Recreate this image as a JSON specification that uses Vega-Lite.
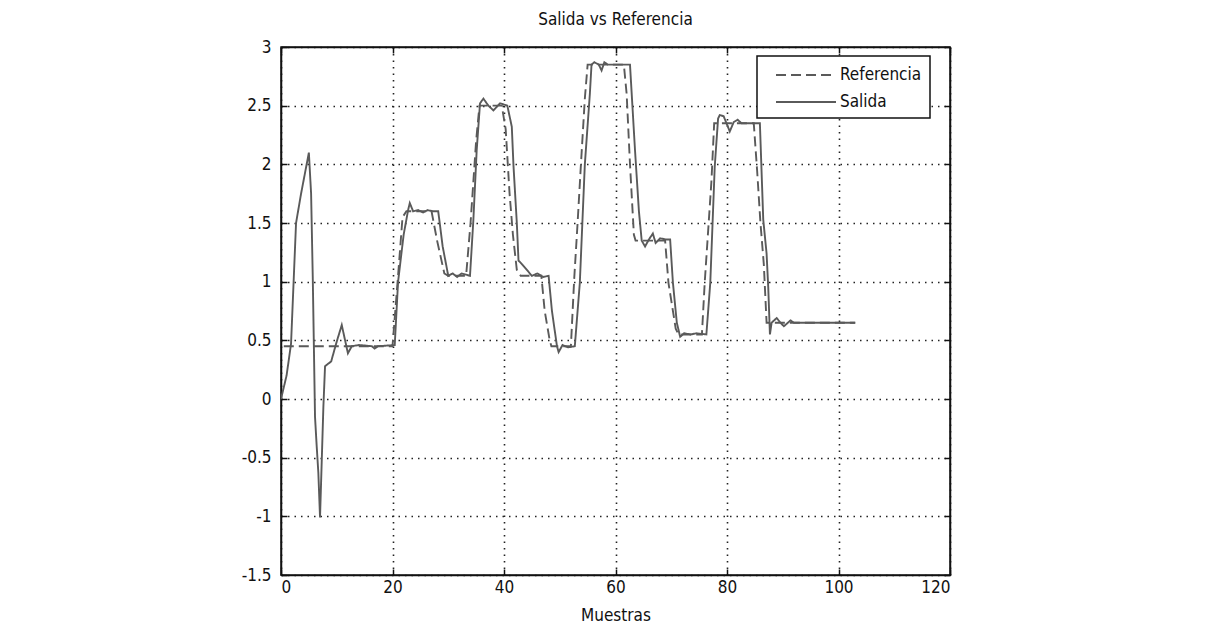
{
  "$schema": "https://vega.github.io/schema/vega-lite/v6.json",
  "width": 669,
  "height": 528,
  "autosize": "none",
  "padding": {"left": 281, "top": 47, "right": 260, "bottom": 53},
  "background": "white",
  "title": {"text": "Salida vs Referencia", "fontSize": 17, "fontWeight": "normal", "font": "Liberation Sans Narrow, DejaVu Sans Condensed, Liberation Sans", "color": "#111", "offset": 9, "anchor": "middle"},
  "config": {
    "view": {"stroke": "#111", "strokeWidth": 1.5},
    "axis": {
      "domainColor": "#111",
      "domainWidth": 1.5,
      "tickColor": "#111",
      "tickSize": -6,
      "tickWidth": 1.5,
      "grid": true,
      "gridColor": "#222",
      "gridDash": [1.5, 5],
      "gridWidth": 1.6,
      "gridOpacity": 1,
      "labelFont": "Liberation Sans Narrow, DejaVu Sans Condensed, Liberation Sans",
      "labelFontSize": 17,
      "labelColor": "#111",
      "titleFont": "Liberation Sans Narrow, DejaVu Sans Condensed, Liberation Sans",
      "titleFontSize": 17,
      "titleFontWeight": "normal",
      "titleColor": "#111"
    },
    "legend": {
      "orient": "none",
      "legendX": 476,
      "legendY": 9,
      "direction": "vertical",
      "fillColor": "white",
      "strokeColor": "#111",
      "strokeWidth": 1.5,
      "padding": 8,
      "symbolType": "M0,0H6",
      "symbolSize": 400,
      "symbolStrokeWidth": 1.8,
      "symbolStrokeColor": "#5a5a5a",
      "labelOffset": 53,
      "labelFont": "Liberation Sans Narrow, DejaVu Sans Condensed, Liberation Sans",
      "labelFontSize": 17,
      "labelColor": "#111",
      "rowPadding": 8
    }
  },
  "data": {"values": [
    {"x": 0.5, "y": 0.45, "serie": "Referencia"},
    {"x": 20, "y": 0.45, "serie": "Referencia"},
    {"x": 21, "y": 1.05, "serie": "Referencia"},
    {"x": 21.8, "y": 1.55, "serie": "Referencia"},
    {"x": 22.5, "y": 1.6, "serie": "Referencia"},
    {"x": 27, "y": 1.6, "serie": "Referencia"},
    {"x": 28, "y": 1.35, "serie": "Referencia"},
    {"x": 29.3, "y": 1.07, "serie": "Referencia"},
    {"x": 30, "y": 1.05, "serie": "Referencia"},
    {"x": 33.2, "y": 1.05, "serie": "Referencia"},
    {"x": 34, "y": 1.5, "serie": "Referencia"},
    {"x": 35, "y": 2.2, "serie": "Referencia"},
    {"x": 35.6, "y": 2.5, "serie": "Referencia"},
    {"x": 39.6, "y": 2.5, "serie": "Referencia"},
    {"x": 40.3, "y": 2.3, "serie": "Referencia"},
    {"x": 41, "y": 1.75, "serie": "Referencia"},
    {"x": 41.6, "y": 1.4, "serie": "Referencia"},
    {"x": 42.3, "y": 1.1, "serie": "Referencia"},
    {"x": 43, "y": 1.05, "serie": "Referencia"},
    {"x": 46.7, "y": 1.05, "serie": "Referencia"},
    {"x": 47.3, "y": 0.75, "serie": "Referencia"},
    {"x": 48.2, "y": 0.5, "serie": "Referencia"},
    {"x": 48.5, "y": 0.45, "serie": "Referencia"},
    {"x": 52, "y": 0.45, "serie": "Referencia"},
    {"x": 52.6, "y": 1.03, "serie": "Referencia"},
    {"x": 53.2, "y": 1.5, "serie": "Referencia"},
    {"x": 53.8, "y": 2.0, "serie": "Referencia"},
    {"x": 54.5, "y": 2.56, "serie": "Referencia"},
    {"x": 55, "y": 2.85, "serie": "Referencia"},
    {"x": 61.5, "y": 2.85, "serie": "Referencia"},
    {"x": 62, "y": 2.6, "serie": "Referencia"},
    {"x": 62.6, "y": 2.0, "serie": "Referencia"},
    {"x": 63.3, "y": 1.4, "serie": "Referencia"},
    {"x": 63.6, "y": 1.35, "serie": "Referencia"},
    {"x": 68.9, "y": 1.35, "serie": "Referencia"},
    {"x": 69.5, "y": 0.99, "serie": "Referencia"},
    {"x": 70.8, "y": 0.6, "serie": "Referencia"},
    {"x": 71.3, "y": 0.55, "serie": "Referencia"},
    {"x": 75.5, "y": 0.55, "serie": "Referencia"},
    {"x": 76, "y": 0.99, "serie": "Referencia"},
    {"x": 77.2, "y": 1.85, "serie": "Referencia"},
    {"x": 77.7, "y": 2.35, "serie": "Referencia"},
    {"x": 84.8, "y": 2.35, "serie": "Referencia"},
    {"x": 85.4, "y": 1.95, "serie": "Referencia"},
    {"x": 86, "y": 1.5, "serie": "Referencia"},
    {"x": 86.6, "y": 1.15, "serie": "Referencia"},
    {"x": 87.1, "y": 0.65, "serie": "Referencia"},
    {"x": 103, "y": 0.65, "serie": "Referencia"},
    {"x": 0, "y": 0, "serie": "Salida"},
    {"x": 1, "y": 0.2, "serie": "Salida"},
    {"x": 1.8, "y": 0.47, "serie": "Salida"},
    {"x": 2.7, "y": 1.5, "serie": "Salida"},
    {"x": 3.6, "y": 1.75, "serie": "Salida"},
    {"x": 5, "y": 2.1, "serie": "Salida"},
    {"x": 5.4, "y": 1.75, "serie": "Salida"},
    {"x": 5.7, "y": 1.03, "serie": "Salida"},
    {"x": 6.1, "y": -0.15, "serie": "Salida"},
    {"x": 6.4, "y": -0.4, "serie": "Salida"},
    {"x": 6.7, "y": -0.63, "serie": "Salida"},
    {"x": 7, "y": -1.01, "serie": "Salida"},
    {"x": 7.6, "y": -0.07, "serie": "Salida"},
    {"x": 7.9, "y": 0.28, "serie": "Salida"},
    {"x": 9, "y": 0.32, "serie": "Salida"},
    {"x": 10, "y": 0.49, "serie": "Salida"},
    {"x": 10.9, "y": 0.63, "serie": "Salida"},
    {"x": 12, "y": 0.39, "serie": "Salida"},
    {"x": 12.7, "y": 0.45, "serie": "Salida"},
    {"x": 14, "y": 0.46, "serie": "Salida"},
    {"x": 16.3, "y": 0.45, "serie": "Salida"},
    {"x": 16.8, "y": 0.43, "serie": "Salida"},
    {"x": 17.4, "y": 0.45, "serie": "Salida"},
    {"x": 20.4, "y": 0.46, "serie": "Salida"},
    {"x": 21, "y": 1.0, "serie": "Salida"},
    {"x": 22, "y": 1.4, "serie": "Salida"},
    {"x": 22.8, "y": 1.61, "serie": "Salida"},
    {"x": 23.1, "y": 1.67, "serie": "Salida"},
    {"x": 23.7, "y": 1.6, "serie": "Salida"},
    {"x": 24.6, "y": 1.61, "serie": "Salida"},
    {"x": 25.5, "y": 1.59, "serie": "Salida"},
    {"x": 26.3, "y": 1.61, "serie": "Salida"},
    {"x": 27.2, "y": 1.6, "serie": "Salida"},
    {"x": 28.2, "y": 1.6, "serie": "Salida"},
    {"x": 29, "y": 1.3, "serie": "Salida"},
    {"x": 30, "y": 1.05, "serie": "Salida"},
    {"x": 30.8, "y": 1.07, "serie": "Salida"},
    {"x": 31.6, "y": 1.04, "serie": "Salida"},
    {"x": 32.4, "y": 1.07, "serie": "Salida"},
    {"x": 33.9, "y": 1.05, "serie": "Salida"},
    {"x": 34.5, "y": 1.52, "serie": "Salida"},
    {"x": 35.1, "y": 2.12, "serie": "Salida"},
    {"x": 35.7, "y": 2.52, "serie": "Salida"},
    {"x": 36.3, "y": 2.56, "serie": "Salida"},
    {"x": 37.2, "y": 2.5, "serie": "Salida"},
    {"x": 38.1, "y": 2.46, "serie": "Salida"},
    {"x": 39.3, "y": 2.52, "serie": "Salida"},
    {"x": 40.6, "y": 2.5, "serie": "Salida"},
    {"x": 41.4, "y": 2.32, "serie": "Salida"},
    {"x": 41.7, "y": 1.99, "serie": "Salida"},
    {"x": 42.3, "y": 1.5, "serie": "Salida"},
    {"x": 42.6, "y": 1.18, "serie": "Salida"},
    {"x": 43.2, "y": 1.15, "serie": "Salida"},
    {"x": 44.1, "y": 1.1, "serie": "Salida"},
    {"x": 45, "y": 1.05, "serie": "Salida"},
    {"x": 46, "y": 1.07, "serie": "Salida"},
    {"x": 47, "y": 1.04, "serie": "Salida"},
    {"x": 48, "y": 1.05, "serie": "Salida"},
    {"x": 48.6, "y": 0.75, "serie": "Salida"},
    {"x": 49.5, "y": 0.45, "serie": "Salida"},
    {"x": 49.8, "y": 0.4, "serie": "Salida"},
    {"x": 50.5, "y": 0.46, "serie": "Salida"},
    {"x": 51.5, "y": 0.44, "serie": "Salida"},
    {"x": 52.7, "y": 0.45, "serie": "Salida"},
    {"x": 53.6, "y": 0.99, "serie": "Salida"},
    {"x": 54.5, "y": 2.0, "serie": "Salida"},
    {"x": 55.4, "y": 2.6, "serie": "Salida"},
    {"x": 55.7, "y": 2.85, "serie": "Salida"},
    {"x": 56.2, "y": 2.87, "serie": "Salida"},
    {"x": 57, "y": 2.85, "serie": "Salida"},
    {"x": 57.5, "y": 2.8, "serie": "Salida"},
    {"x": 58, "y": 2.87, "serie": "Salida"},
    {"x": 58.6, "y": 2.85, "serie": "Salida"},
    {"x": 62.6, "y": 2.85, "serie": "Salida"},
    {"x": 63.5, "y": 2.12, "serie": "Salida"},
    {"x": 64.2, "y": 1.6, "serie": "Salida"},
    {"x": 64.7, "y": 1.35, "serie": "Salida"},
    {"x": 65.3, "y": 1.3, "serie": "Salida"},
    {"x": 66, "y": 1.36, "serie": "Salida"},
    {"x": 66.7, "y": 1.41, "serie": "Salida"},
    {"x": 67.2, "y": 1.33, "serie": "Salida"},
    {"x": 68, "y": 1.37, "serie": "Salida"},
    {"x": 69, "y": 1.36, "serie": "Salida"},
    {"x": 69.8, "y": 1.36, "serie": "Salida"},
    {"x": 70.3, "y": 0.99, "serie": "Salida"},
    {"x": 71, "y": 0.65, "serie": "Salida"},
    {"x": 71.6, "y": 0.53, "serie": "Salida"},
    {"x": 72.3, "y": 0.56, "serie": "Salida"},
    {"x": 73.5, "y": 0.55, "serie": "Salida"},
    {"x": 74.5, "y": 0.56, "serie": "Salida"},
    {"x": 76.3, "y": 0.55, "serie": "Salida"},
    {"x": 77, "y": 0.99, "serie": "Salida"},
    {"x": 77.8, "y": 1.98, "serie": "Salida"},
    {"x": 78.4, "y": 2.39, "serie": "Salida"},
    {"x": 78.7, "y": 2.42, "serie": "Salida"},
    {"x": 79.4, "y": 2.41, "serie": "Salida"},
    {"x": 80.5, "y": 2.28, "serie": "Salida"},
    {"x": 81.2, "y": 2.36, "serie": "Salida"},
    {"x": 81.9, "y": 2.38, "serie": "Salida"},
    {"x": 82.6, "y": 2.35, "serie": "Salida"},
    {"x": 85.9, "y": 2.35, "serie": "Salida"},
    {"x": 86.5, "y": 1.53, "serie": "Salida"},
    {"x": 87.1, "y": 1.24, "serie": "Salida"},
    {"x": 87.4, "y": 0.95, "serie": "Salida"},
    {"x": 87.7, "y": 0.55, "serie": "Salida"},
    {"x": 88, "y": 0.65, "serie": "Salida"},
    {"x": 88.9, "y": 0.69, "serie": "Salida"},
    {"x": 89.6, "y": 0.65, "serie": "Salida"},
    {"x": 90.2, "y": 0.62, "serie": "Salida"},
    {"x": 91.4, "y": 0.67, "serie": "Salida"},
    {"x": 92, "y": 0.65, "serie": "Salida"},
    {"x": 103, "y": 0.65, "serie": "Salida"}
  ]},
  "layer": [
    {
      "mark": {"type": "line", "color": "#5a5a5a", "strokeWidth": 1.9, "clip": true},
      "encoding": {
        "x": {"field": "x", "type": "quantitative", "scale": {"domain": [0, 120], "nice": false, "zero": false},
              "axis": {"values": [0, 20, 40, 60, 80, 100, 120], "title": "Muestras", "labelPadding": 10, "titlePadding": 12, "format": "d"}},
        "y": {"field": "y", "type": "quantitative", "scale": {"domain": [-1.5, 3], "nice": false, "zero": false},
              "axis": {"values": [-1.5, -1, -0.5, 0, 0.5, 1, 1.5, 2, 2.5, 3], "title": null, "labelExpr": "'' + datum.value", "labelPadding": 16}},
        "strokeDash": {"field": "serie", "type": "nominal",
                       "scale": {"domain": ["Referencia", "Salida"], "range": [[10, 5], [1, 0]]},
                       "legend": {"title": null}},
        "order": {"field": "x", "type": "quantitative"}
      }
    },
    {
      "mark": {"type": "line", "opacity": 0},
      "encoding": {
        "x": {"field": "x", "type": "quantitative", "axis": {"orient": "top", "values": [0, 20, 40, 60, 80, 100, 120], "labels": false, "grid": false, "title": null}},
        "y": {"field": "y", "type": "quantitative", "axis": {"orient": "right", "values": [-1.5, -1, -0.5, 0, 0.5, 1, 1.5, 2, 2.5, 3], "labels": false, "grid": false, "title": null}},
        "detail": {"field": "serie", "type": "nominal"}
      }
    }
  ],
  "resolve": {"axis": {"x": "independent", "y": "independent"}}
}
